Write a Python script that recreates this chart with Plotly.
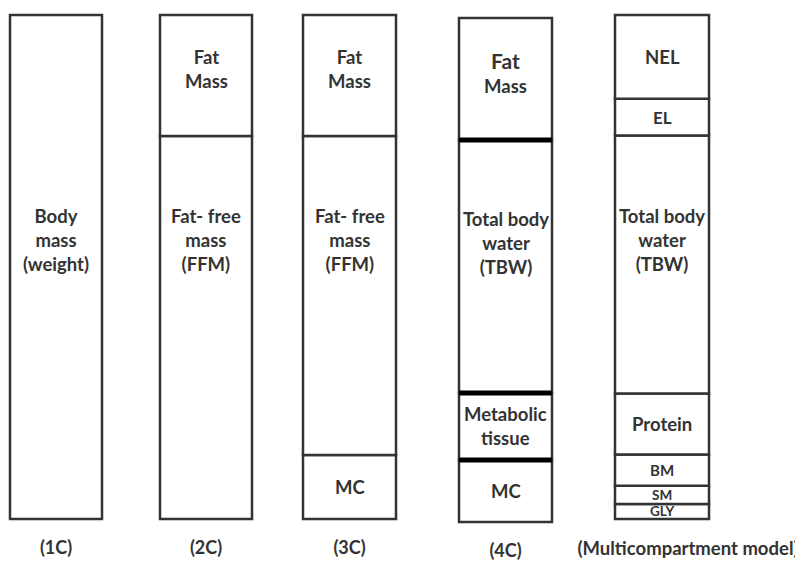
import numpy as np
import plotly.graph_objects as go

# ---------------- data (compartments listed bottom -> top, % of body mass) -------------
models = ["(1C)", "(2C)", "(3C)", "(4C)", "(Multicompartment model)"]

labels_1c = ["Body<br>mass<br>(weight)"]
values_1c = [100.0]

labels_2c = ["Fat- free<br>mass<br>(FFM)", "Fat<br>Mass"]
values_2c = [76.0, 24.0]

labels_3c = ["MC", "Fat- free<br>mass<br>(FFM)", "Fat<br>Mass"]
values_3c = [12.7, 63.3, 24.0]

labels_4c = ["MC", "Metabolic<br>tissue", "Total body<br>water<br>(TBW)", "Fat<br>Mass"]
values_4c = [12.3, 13.3, 50.2, 24.2]

labels_mc = ["GLY", "SM", "BM", "Protein", "Total body<br>water<br>(TBW)", "EL", "NEL"]
values_mc = [3.0, 3.6, 6.2, 12.1, 51.2, 7.3, 16.6]

all_labels = [labels_1c, labels_2c, labels_3c, labels_4c, labels_mc]
all_values = [values_1c, values_2c, values_3c, values_4c, values_mc]

# ---------------- layout / style ----------------
OFF = 8                       # page margin of the host document
W, H = 803 - OFF, 561 - OFF   # figure size
box_x_px = [(10, 102), (160, 252), (303, 396), (459, 552), (615, 709)]
box_y_px = [(15, 519), (15, 519), (15, 519), (18, 522), (15, 519)]
PAD = 2
TEXT_COLOR = "#333333"
EDGE_COLOR = "#333333"
FONT = "Lato"
thick_divider_model = "(4C)"
label_shift = {"(Multicompartment model)": 26}
tick_size = {"(Multicompartment model)": 18.5}
label_yshift = {"Fat<br>Mass": 6}


def label_size(v):
    if v >= 10:
        return 18.5
    if v >= 7:
        return 17
    if v >= 5:
        return 15
    return 13.5


fig = go.Figure()
layout_axes = {}
annotations = []

for i, (model, labs, vals) in enumerate(zip(models, all_labels, all_values)):
    n = i + 1
    xa = "x" if n == 1 else f"x{n}"
    ya = "y" if n == 1 else f"y{n}"
    vals = np.array(vals, dtype=float)
    tops = np.cumsum(vals)
    bases = tops - vals

    fig.add_trace(go.Bar(
        x=[0] * len(vals), y=vals, base=bases, width=1,
        marker=dict(color="white", line=dict(color=EDGE_COLOR, width=2.5)),
        hoverinfo="skip", showlegend=False, xaxis=xa, yaxis=ya,
    ))

    if model == thick_divider_model:
        for b in tops[:-1]:
            fig.add_trace(go.Scatter(
                x=[-0.5, 0.5], y=[b, b], mode="lines",
                line=dict(color="black", width=5),
                hoverinfo="skip", showlegend=False, xaxis=xa, yaxis=ya,
            ))

    for lab, v, b in zip(labs, vals, bases):
        ypos = b + v / 2 if v < 40 else 55.4
        text = lab
        if model == thick_divider_model and lab.startswith("Fat<br>"):
            text = "<span style='font-size:21px'>Fat</span><br>Mass"
        annotations.append(dict(
            x=0, y=ypos, xref=xa, yref=ya, text=text, showarrow=False,
            yshift=label_yshift.get(lab, 0),
            font=dict(family=FONT, size=label_size(v), color=TEXT_COLOR, weight=700),
            xanchor="center", yanchor="middle",
        ))

    L, R = (p - OFF for p in box_x_px[i])
    T, B = (p - OFF for p in box_y_px[i])
    ex = PAD / (R - L)
    ey = PAD * 100.0 / (B - T)
    layout_axes["xaxis" if n == 1 else f"xaxis{n}"] = dict(
        domain=[max(0, (L - PAD) / W), min(1, (R + PAD) / W)],
        range=[-0.5 - ex, 0.5 + ex],
        anchor=ya, tickvals=[0], ticktext=[model], showgrid=False, zeroline=False,
        showline=False, ticks="", ticklabelstandoff=14, automargin=False,
        ticklabelshift=label_shift.get(model, 0),
        tickfont=dict(family=FONT, size=tick_size.get(model, 18), color=TEXT_COLOR, weight=700),
        fixedrange=True,
    )
    layout_axes["yaxis" if n == 1 else f"yaxis{n}"] = dict(
        domain=[max(0, 1 - (B + PAD) / H), min(1, 1 - (T - PAD) / H)],
        range=[-ey, 100 + ey],
        anchor=xa, visible=False, automargin=False, fixedrange=True,
    )

fig.update_layout(
    width=W, height=H, margin=dict(l=0, r=0, t=0, b=0, autoexpand=False),
    paper_bgcolor="white", plot_bgcolor="white", template="none",
    barmode="overlay", annotations=annotations, **layout_axes,
)

fig.write_html("out.html")
